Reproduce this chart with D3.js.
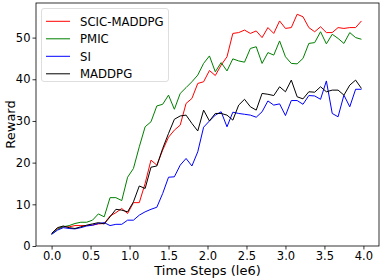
<!DOCTYPE html>
<meta charset="utf-8">
<script src="https://d3js.org/d3.v7.min.js"></script>
<style>
body { margin: 0; background: #fff; }
svg text { font-family: "DejaVu Sans", sans-serif; fill: #000; }
</style>
<div id="chart"></div>
<script>

// evaluation every 75k steps (x in units of 1e6)
const steps = d3.range(54).map(i => +(i * 0.075).toFixed(3));

const scicMaddpg = [3.0, 4.2, 4.6, 4.6, 4.9, 4.9, 4.9, 5.0, 5.3, 5.4,
  7.2, 8.0, 9.0, 7.8, 10.4, 10.4, 15.0, 20.6, 19.4, 23.0,
  26.1, 27.8, 29.0, 34.2, 35.4, 39.0, 39.4, 42.1, 40.9, 43.4,
  45.4, 51.0, 51.2, 51.8, 51.0, 51.6, 50.0, 52.4, 51.0, 54.0,
  52.2, 52.4, 55.6, 55.0, 52.4, 51.4, 52.6, 51.2, 51.2, 52.4,
  52.2, 52.4, 52.4, 54.0];

const pmic = [2.8, 4.0, 4.6, 4.9, 5.4, 5.7, 5.7, 6.2, 7.7, 7.0,
  11.6, 11.6, 10.9, 16.5, 18.6, 23.8, 28.6, 29.8, 33.6, 34.0,
  36.2, 32.8, 36.6, 38.0, 39.4, 41.0, 43.8, 45.6, 41.8, 44.0,
  42.0, 44.9, 44.4, 44.1, 47.4, 47.8, 43.8, 46.4, 45.8, 49.2,
  45.4, 43.8, 43.7, 45.0, 48.6, 48.8, 51.4, 48.5, 50.8, 49.8,
  48.6, 51.2, 50.0, 49.6];

const si = [2.8, 3.8, 4.4, 4.2, 4.1, 4.4, 4.8, 5.0, 5.4, 5.6,
  4.9, 5.2, 5.2, 6.2, 6.2, 7.4, 8.2, 8.8, 9.3, 12.6,
  16.5, 16.6, 19.4, 21.0, 19.2, 22.6, 28.5, 30.0, 31.4, 32.2,
  28.6, 32.1, 31.8, 31.6, 31.4, 30.9, 32.2, 34.8, 33.8, 34.1,
  31.3, 34.9, 34.9, 34.0, 36.1, 36.0, 35.2, 39.6, 31.8, 31.0,
  36.2, 33.4, 37.6, 37.6];

const maddpg = [3.0, 4.4, 4.8, 4.4, 4.2, 4.6, 5.0, 5.3, 5.6, 5.3,
  7.0, 8.8, 8.6, 8.2, 10.6, 14.4, 13.8, 18.9, 19.2, 23.4,
  27.0, 30.4, 31.2, 31.4, 29.4, 27.6, 32.6, 30.0, 31.8, 31.8,
  31.4, 30.2, 33.8, 35.2, 33.4, 32.6, 36.6, 36.4, 36.1, 38.2,
  37.0, 39.8, 35.8, 35.3, 37.0, 36.9, 38.2, 37.0, 37.4, 37.4,
  36.2, 38.6, 39.8, 37.8];

const seriesNames = ["SCIC-MADDPG", "PMIC", "SI", "MADDPG"];
const seriesColors = ["#ff0000", "#008000", "#0000ff", "#000000"];
const seriesValues = [scicMaddpg, pmic, si, maddpg];

const xTicks = [0, 0.5, 1, 1.5, 2, 2.5, 3, 3.5, 4];
const yTicks = [0, 10, 20, 30, 40, 50];

const W = 382, H = 279;
const margin = {top: 3, right: 3, bottom: 33, left: 36};
const width = W - margin.left - margin.right,
      height = H - margin.top - margin.bottom;

const svg = d3.select("#chart").append("svg")
    .attr("width", W)
    .attr("height", H)
  .append("g")
    .attr("transform", `translate(${margin.left},${margin.top})`);

const x = d3.scaleLinear().domain([-0.2, 4.2]).range([0, width]);
const y = d3.scaleLinear().domain([0, 58.3]).range([height, 0]);

// series
const line = d3.line().x((d, i) => x(steps[i])).y(d => y(d));
svg.append("g")
  .selectAll("path")
  .data(seriesValues)
  .join("path")
    .attr("d", d => line(d))
    .attr("fill", "none")
    .attr("stroke", (d, i) => seriesColors[i])
    .attr("stroke-width", 1)
    .attr("stroke-linejoin", "round");

// axes
const xAxis = svg.append("g")
  .attr("transform", `translate(0,${height})`)
  .call(d3.axisBottom(x).tickValues(xTicks).tickFormat(d3.format(".1f")).tickSize(3.5).tickPadding(2));
const yAxis = svg.append("g")
  .call(d3.axisLeft(y).tickValues(yTicks).tickFormat(d3.format("d")).tickSize(3.5).tickPadding(2));
[xAxis, yAxis].forEach(a => {
  a.selectAll("text").attr("font-size", 11.5).attr("font-family", "DejaVu Sans");
  a.selectAll("line").attr("stroke", "#000").attr("stroke-width", 0.8);
  a.select(".domain").remove();
});

// frame
svg.append("rect")
  .attr("width", width).attr("height", height)
  .attr("fill", "none").attr("stroke", "#000").attr("stroke-width", 0.8);

// axis labels
svg.append("text")
  .attr("x", width / 2).attr("y", height + 29)
  .attr("text-anchor", "middle").attr("font-size", 13)
  .text("Time Steps (le6)");
svg.append("text")
  .attr("transform", `translate(${-21.5},${height / 2}) rotate(-90)`)
  .attr("text-anchor", "middle").attr("font-size", 13)
  .text("Reward");

// legend
const legend = svg.append("g").attr("transform", "translate(5.5,5.5)");
legend.append("rect")
  .attr("width", 127).attr("height", 73).attr("rx", 2.5)
  .attr("fill", "#fff").attr("fill-opacity", 0.8)
  .attr("stroke", "#d6d6d6").attr("stroke-width", 0.8);
const rows = legend.selectAll("g.row")
  .data(seriesNames)
  .join("g")
    .attr("class", "row")
    .attr("transform", (d, i) => `translate(0,${12.8 + i * 17.5})`);
rows.append("line")
  .attr("x1", 4.5).attr("x2", 28.5)
  .attr("stroke", (d, i) => seriesColors[i]).attr("stroke-width", 1);
rows.append("text")
  .attr("x", 38.5).attr("dy", "0.36em")
  .attr("font-size", 11.7)
  .text(d => d);

</script>
